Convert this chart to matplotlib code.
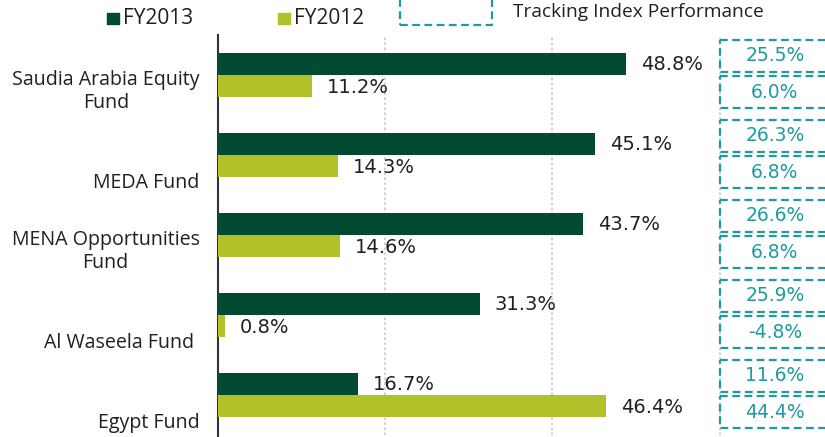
import matplotlib
matplotlib.use("Agg")
import matplotlib.pyplot as plt
from matplotlib.patches import Rectangle
import numpy as np

categories = ["Saudia Arabia Equity\nFund", "MEDA Fund", "MENA Opportunities\nFund", "Al Waseela Fund ", "Egypt Fund"]
fy2013 = [48.8, 45.1, 43.7, 31.3, 16.7]
fy2012 = [11.2, 14.3, 14.6, 0.8, 46.4]
track2013 = [25.5, 26.3, 26.6, 25.9, 11.6]
track2012 = [6.0, 6.8, 6.8, -4.8, 44.4]
series_names = ["FY2013", "FY2012"]
tracking_title = "Tracking Index Performance"

DARK = "#024a32"
LIGHT = "#b1c12a"
TEAL = "#1f9aa0"
TEXT = "#231f20"
CAT_FONT = ["Open Sans", "DejaVu Sans"]
VAL_FONT = ["DejaVu Sans"]

W, H = 825, 437
fig = plt.figure(figsize=(W / 100, H / 100), dpi=100)
ax_left, ax_right, ax_top, ax_bot = 218, 825, 35, 435
ax = fig.add_axes([ax_left / W, 1 - ax_bot / H, (ax_right - ax_left) / W, (ax_bot - ax_top) / H])

px_per_unit = 8.36
ax.set_xlim(0, (ax_right - ax_left) / px_per_unit)
ax.set_ylim(len(categories) - 0.5, -0.5)

y = np.arange(len(categories))
bh = 0.275
ax.barh(y - bh / 2, fy2013, height=bh, color=DARK, zorder=3)
ax.barh(y + bh / 2, fy2012, height=bh, color=LIGHT, zorder=3)

for i in range(len(categories)):
    ax.text(fy2013[i] + 1.8, y[i] - bh / 2, f"{fy2013[i]:.1f}%", va="center", ha="left",
            fontsize=14, color=TEXT, family=VAL_FONT, zorder=4)
    ax.text(fy2012[i] + 1.8, y[i] + bh / 2 + 0.02, f"{fy2012[i]:.1f}%", va="center", ha="left",
            fontsize=14, color=TEXT, family=VAL_FONT, zorder=4)

# gridlines
for gx in [20, 40, 60]:
    ax.axvline(gx, color="#c8c8c8", lw=1.2, ls=(0, (1.5, 1.5)), zorder=1)

# tracking boxes
box_h = 0.40
for i in range(len(categories)):
    for j, val in enumerate([track2013[i], track2012[i]]):
        cy = y[i] + (-0.24 if j == 0 else 0.215)
        rect = Rectangle((60, cy - box_h / 2), 20, box_h, fill=False, edgecolor=TEAL,
                         lw=1.6, ls=(0, (3.5, 2)), zorder=5, clip_on=False)
        ax.add_patch(rect)
        ax.text(66.6, cy, f"{val:.1f}%", ha="center", va="center", fontsize=13.5,
                color=TEAL, family=VAL_FONT, zorder=6)

# category labels
for i, c in enumerate(categories):
    ax.text(-2.2, y[i] + 0.47, c, ha="right", va="bottom", multialignment="center",
            fontsize=14.1, color=TEXT, family=CAT_FONT, linespacing=1.2)

ax.set_yticks([])
ax.set_xticks([])
for s in ["top", "right", "bottom"]:
    ax.spines[s].set_visible(False)
ax.spines["left"].set_color("#333333")
ax.spines["left"].set_linewidth(1.5)
ax.spines["left"].set_bounds(len(categories) - 0.5 + 0.1, -0.5)
ax.set_zorder(2)

# legend
fig.patches.append(Rectangle((107 / W, 1 - 24 / H), 12 / W, 11 / H, transform=fig.transFigure,
                             color=DARK))
fig.text(123 / W, 1 - 18.5 / H, series_names[0], va="center", ha="left", fontsize=15,
         color=TEXT, family=CAT_FONT)
fig.patches.append(Rectangle((278 / W, 1 - 24 / H), 12 / W, 11 / H, transform=fig.transFigure,
                             color=LIGHT))
fig.text(294 / W, 1 - 18.5 / H, series_names[1], va="center", ha="left", fontsize=15,
         color=TEXT, family=CAT_FONT)
fig.patches.append(Rectangle((400 / W, 1 - 25 / H), 92 / W, 35 / H, transform=fig.transFigure,
                             fill=False, edgecolor=TEAL, lw=1.6, ls=(0, (3.5, 2))))
fig.text(513 / W, 1 - 12 / H, tracking_title, va="center", ha="left", fontsize=13.8,
         color=TEXT, family=CAT_FONT)

fig.savefig("out.png", dpi=100)
